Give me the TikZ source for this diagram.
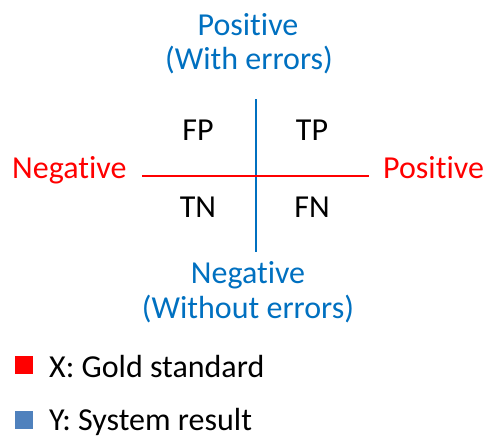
\documentclass[tikz,border=0pt]{standalone}
\usepackage{fontspec}
\setmainfont{Carlito}[Ligatures=NoCommon]
\definecolor{axisblue}{HTML}{0070C0}
\definecolor{axisred}{HTML}{FF0000}
\definecolor{keyblue}{HTML}{4F81BD}
\begin{document}
\begin{tikzpicture}[x=1pt,y=-1pt,
  lbl/.style={inner sep=0pt,anchor=base,font=\fontsize{32}{38}\selectfont},
  keybox/.style={minimum size=18pt,inner sep=0pt,draw=none,anchor=north west}]
\useasboundingbox (0,0) rectangle (484,436);
% axes
\coordinate (vtop) at (256,99);
\coordinate (vbot) at (256,252);
\coordinate (hl) at (142,176);
\coordinate (hr) at (369,176);
\draw[axisblue,line width=2.2pt] (vtop) -- (vbot);
\draw[axisred,line width=2.2pt] (hl) -- (hr);
% axis labels
\node[lbl,text=axisblue] (ypos1) at (248,36) {Positive};
\node[lbl,text=axisblue] (ypos2) at (249,69) {(With errors)};
\node[lbl,text=axisblue] (yneg1) at (248,283) {Negative};
\node[lbl,text=axisblue] (yneg2) at (248,318) {(Without errors)};
\node[lbl,text=axisred,anchor=base west] (xneg) at (12,178) {Negative};
\node[lbl,text=axisred,anchor=base west] (xpos) at (383,178) {Positive};
% quadrants
\node[lbl] (fp) at (198,140) {FP};
\node[lbl] (tp) at (312,140) {TP};
\node[lbl] (tn) at (198,217) {TN};
\node[lbl] (fn) at (312,217) {FN};
% key
\node[keybox,fill=axisred] (kx) at (15,356) {};
\node[keybox,fill=keyblue] (ky) at (15,411) {};
\node[lbl,anchor=base west] (kxt) at (49,377) {X: Gold standard};
\node[lbl,anchor=base west] (kyt) at (49,430) {Y: System result};
\end{tikzpicture}
\end{document}
